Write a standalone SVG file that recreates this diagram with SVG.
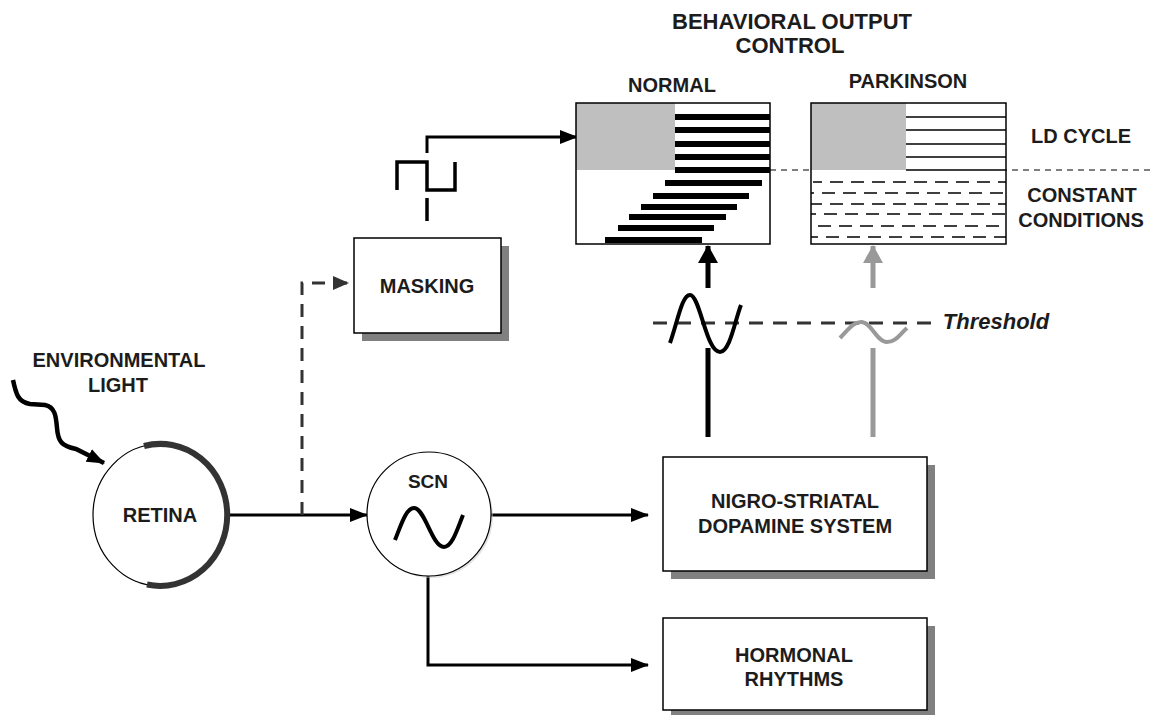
<svg xmlns="http://www.w3.org/2000/svg" width="1153" height="715" viewBox="0 0 1153 715">
<style>
text{font-family:"Liberation Sans",Arial,sans-serif;font-weight:bold;fill:#1c1c1c;text-anchor:middle}
.t20{font-size:20px}
.box{fill:#fff;stroke:#000;stroke-width:1.5}
.shadow{fill:#808080}
.ln{fill:none;stroke:#000;stroke-width:3}
.dash{fill:none;stroke:#333;stroke-width:3;stroke-dasharray:13 9}
.bar{fill:#000}
.pl{stroke:#000;stroke-width:1.5}
.pd{stroke:#000;stroke-width:1.5;stroke-dasharray:13 8}
</style>
<defs>
<marker id="ah" markerUnits="userSpaceOnUse" markerWidth="18" markerHeight="14" refX="17" refY="7" orient="auto"><path d="M0,0 L18,7 L0,14 Z" fill="#000"/></marker>
<marker id="ahd" markerUnits="userSpaceOnUse" markerWidth="16" markerHeight="14" refX="15" refY="7" orient="auto"><path d="M0,0 L16,7 L0,14 Z" fill="#333"/></marker>
<marker id="ahb" markerUnits="userSpaceOnUse" markerWidth="18" markerHeight="20" refX="17" refY="10" orient="auto"><path d="M0,0 L18,10 L0,20 Z" fill="#000"/></marker>
<marker id="ahg" markerUnits="userSpaceOnUse" markerWidth="18" markerHeight="20" refX="17" refY="10" orient="auto"><path d="M0,0 L18,10 L0,20 Z" fill="#999"/></marker>
</defs>

<!-- top titles -->
<g id="title">
<text x="792" y="29" style="font-size:22px">BEHAVIORAL OUTPUT</text>
<text x="790" y="53" style="font-size:22px">CONTROL</text>
</g>

<!-- connectors -->
<g id="connectors">
<!-- light squiggle -->
<path d="M13,380 C16,394 18,402 30,404 L45,405 C55,407 56,416 57,428 C58,442 62,446 76,449 L104,463" fill="none" stroke="#000" stroke-width="4.5" marker-end="url(#ah)"/>
<!-- retina to SCN -->
<line class="ln" x1="228" y1="515" x2="367" y2="515" marker-end="url(#ah)"/>
<!-- dashed to masking -->
<path class="dash" d="M302,515 L302,283 L348,283" marker-end="url(#ahd)"/>
<!-- SCN to nigro -->
<line class="ln" x1="491" y1="515" x2="648" y2="515" marker-end="url(#ah)"/>
<!-- SCN to hormonal -->
<path class="ln" d="M428,575 L428,665 L648,665" marker-end="url(#ah)"/>
<!-- masking output -->
<line x1="427" y1="198" x2="427" y2="221" stroke="#000" stroke-width="3.5"/>
<path d="M397,190 L397,162 L427,162 L427,190 L455,190 L455,162" fill="none" stroke="#000" stroke-width="3.5"/>
<path class="ln" d="M427,153 L427,137 L577,137" marker-end="url(#ah)"/>
<!-- threshold line -->
<line x1="653" y1="323" x2="934" y2="323" stroke="#333" stroke-width="3" stroke-dasharray="14 10"/>
<!-- black output -->
<line x1="708" y1="437" x2="708" y2="348" stroke="#000" stroke-width="5"/>
<line x1="708" y1="288" x2="708" y2="246" stroke="#000" stroke-width="5" marker-end="url(#ahb)"/>
<path d="M670,343 C678,320 682,295 690,295 C700,295 706,352 720,352 C730,352 735,320 741,305" fill="none" stroke="#000" stroke-width="4"/>
<!-- gray output -->
<line x1="873" y1="437" x2="873" y2="348" stroke="#999" stroke-width="5"/>
<line x1="873" y1="288" x2="873" y2="246" stroke="#999" stroke-width="5" marker-end="url(#ahg)"/>
<path d="M840,338 C848,330 853,322 861,322 C872,322 876,342 887,342 C896,342 900,334 907,328" fill="none" stroke="#999" stroke-width="4"/>
<!-- LD / constant separator -->
<line x1="770" y1="170" x2="1153" y2="170" stroke="#555" stroke-width="1.5" stroke-dasharray="6 5"/>
</g>

<g id="threshold-label">
<text x="996" y="329" style="font-size:22px;font-style:italic">Threshold</text>
</g>

<!-- normal panel -->
<g id="normal">
<text class="t20" x="672" y="92">NORMAL</text>
<rect x="576" y="103" width="194" height="141" fill="#fff"/>
<rect x="576" y="103" width="99" height="67" fill="#bfbfbf"/>
<rect class="bar" x="675" y="114" width="95" height="6"/>
<rect class="bar" x="675" y="127" width="95" height="6"/>
<rect class="bar" x="675" y="141" width="95" height="6"/>
<rect class="bar" x="675" y="154" width="95" height="6"/>
<rect class="bar" x="675" y="167" width="95" height="6"/>
<rect class="bar" x="665" y="180" width="97" height="6"/>
<rect class="bar" x="653" y="193" width="96" height="6"/>
<rect class="bar" x="641" y="204" width="96" height="6"/>
<rect class="bar" x="629" y="214" width="97" height="6"/>
<rect class="bar" x="618" y="225" width="96" height="6"/>
<rect class="bar" x="605" y="237" width="97" height="6"/>
<rect x="576" y="103" width="194" height="141" fill="none" stroke="#000" stroke-width="1.5"/>
</g>

<!-- parkinson panel -->
<g id="parkinson">
<text class="t20" x="908" y="88">PARKINSON</text>
<rect x="811" y="103" width="195" height="141" fill="#fff"/>
<rect x="811" y="103" width="95" height="67" fill="#bfbfbf"/>
<line class="pl" x1="906" y1="117" x2="1006" y2="117"/>
<line class="pl" x1="906" y1="130" x2="1006" y2="130"/>
<line class="pl" x1="906" y1="144" x2="1006" y2="144"/>
<line class="pl" x1="906" y1="157" x2="1006" y2="157"/>
<line class="pl" x1="906" y1="170" x2="1006" y2="170"/>
<line class="pd" x1="813" y1="182" x2="1006" y2="182" stroke-dashoffset="4"/>
<line class="pd" x1="811" y1="193" x2="1006" y2="193" stroke-dashoffset="10"/>
<line class="pd" x1="811" y1="204" x2="1006" y2="204" stroke-dashoffset="2"/>
<line class="pd" x1="811" y1="214" x2="1006" y2="214" stroke-dashoffset="8"/>
<line class="pd" x1="811" y1="226" x2="1006" y2="226" stroke-dashoffset="14"/>
<line class="pd" x1="811" y1="237" x2="1006" y2="237" stroke-dashoffset="6"/>
<rect x="811" y="103" width="195" height="141" fill="none" stroke="#000" stroke-width="1.5"/>
</g>

<g id="labels-right">
<text class="t20" x="1081" y="143">LD CYCLE</text>
<text class="t20" x="1082" y="202">CONSTANT</text>
<text class="t20" x="1081" y="227">CONDITIONS</text>
</g>

<!-- environmental light label -->
<g id="env-light">
<text class="t20" x="119" y="367">ENVIRONMENTAL</text>
<text class="t20" x="118" y="392">LIGHT</text>
</g>

<!-- retina -->
<g id="retina">
<ellipse cx="160" cy="515" rx="67" ry="71" fill="#fff" stroke="#000" stroke-width="1.2"/>
<path d="M144,446 A67,71 0 1 1 147,584.5" fill="none" stroke="#333" stroke-width="6"/>
<text class="t20" x="160" y="522">RETINA</text>
</g>

<!-- SCN -->
<g id="scn">
<circle cx="431" cy="516" r="62" fill="#c8c8c8" opacity="0.5"/>
<circle cx="429" cy="514" r="62" fill="#fff" stroke="#000" stroke-width="1.2"/>
<text x="428" y="488" style="font-size:19px">SCN</text>
<path d="M395,540 C401,525 406,508 414,508 C425,508 432,547 444,547 C452,547 457,530 463,515" fill="none" stroke="#000" stroke-width="4"/>
</g>

<!-- masking -->
<g id="masking">
<rect class="shadow" x="362" y="246" width="147" height="95"/>
<rect class="box" x="354" y="238" width="147" height="95"/>
<text class="t20" x="427" y="293">MASKING</text>
</g>

<!-- nigro-striatal -->
<g id="nigro">
<rect class="shadow" x="671" y="465" width="264" height="114"/>
<rect class="box" x="663" y="457" width="264" height="114"/>
<text class="t20" x="795" y="508">NIGRO-STRIATAL</text>
<text class="t20" x="795" y="533">DOPAMINE SYSTEM</text>
</g>

<!-- hormonal -->
<g id="hormonal">
<rect class="shadow" x="671" y="626" width="264" height="92"/>
<rect class="box" x="663" y="618" width="264" height="92"/>
<text class="t20" x="794" y="662">HORMONAL</text>
<text class="t20" x="794" y="686">RHYTHMS</text>
</g>
</svg>
